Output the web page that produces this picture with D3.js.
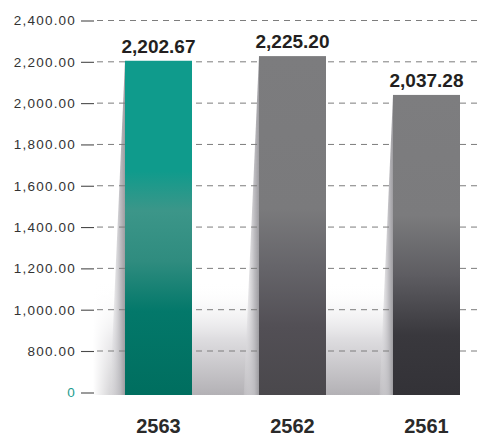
<!DOCTYPE html>
<html>
<head>
<meta charset="utf-8">
<script src="https://cdn.jsdelivr.net/npm/d3@7"></script>
<style>
  body { margin: 0; background: #fff; }
  svg { display: block; font-family: "Liberation Sans", Arial, sans-serif; }
</style>
</head>
<body>
<div id="chart"></div>
<script>
// data
const years = ["2563", "2562", "2561"];
const values = [2202.67, 2225.20, 2037.28];
const tickValues = [0, 800, 1000, 1200, 1400, 1600, 1800, 2000, 2200, 2400];

const width = 479, height = 437;

const svg = d3.select("#chart").append("svg")
    .attr("width", width)
    .attr("height", height);

const defs = svg.append("defs");

// broken axis: 0 sits one step below 800
const y = d3.scaleLinear()
    .domain([0, 800, 2400])
    .range([392, 350.5, 20]);

const x = d3.scaleBand()
    .domain(years)
    .range([91.5, 493.5])
    .paddingInner(0.5)
    .paddingOuter(0.25);

const barBottom = y(0) + 3;

// gradients for bars
const barStops = [
    [[0, "#0f9b8c"], [0.33, "#0f9b8c"], [0.45, "#3c9689"], [0.6, "#2f8c7f"], [0.75, "#03786a"], [1, "#006e5f"]],
    [[0, "#7c7c7e"], [0.45, "#7a7a7c"], [0.62, "#66656a"], [0.8, "#524f55"], [1, "#4a484c"]],
    [[0, "#7d7d7f"], [0.4, "#7b7b7d"], [0.6, "#5e5d62"], [0.8, "#39383d"], [1, "#333237"]]
];
barStops.forEach(function (stops, i) {
    const g = defs.append("linearGradient")
        .attr("id", "bar" + i)
        .attr("x1", 0).attr("y1", 0).attr("x2", 0).attr("y2", 1);
    stops.forEach(function (s) {
        g.append("stop").attr("offset", s[0]).attr("stop-color", s[1]);
    });
});

const floor = defs.append("linearGradient")
    .attr("id", "floor")
    .attr("x1", 0).attr("y1", 0).attr("x2", 0).attr("y2", 1);
floor.append("stop").attr("offset", 0).attr("stop-color", "#fff").attr("stop-opacity", 0);
floor.append("stop").attr("offset", 0.5).attr("stop-color", "#dedde0").attr("stop-opacity", 1);
floor.append("stop").attr("offset", 1).attr("stop-color", "#b3b1b5").attr("stop-opacity", 1);

const wedge = defs.append("linearGradient")
    .attr("id", "wedge")
    .attr("x1", 0).attr("y1", 0).attr("x2", 1).attr("y2", 0);
wedge.append("stop").attr("offset", 0).attr("stop-color", "#e4e3e6").attr("stop-opacity", 0.2);
wedge.append("stop").attr("offset", 0.7).attr("stop-color", "#bdbcc0");
wedge.append("stop").attr("offset", 1).attr("stop-color", "#9e9da1");

const fadeLeft = defs.append("linearGradient")
    .attr("id", "fadeLeft")
    .attr("x1", 0).attr("y1", 0).attr("x2", 1).attr("y2", 0);
fadeLeft.append("stop").attr("offset", 0).attr("stop-color", "#fff").attr("stop-opacity", 1);
fadeLeft.append("stop").attr("offset", 1).attr("stop-color", "#fff").attr("stop-opacity", 0);

// floor shadows in the gaps, left of each bar
const shadows = svg.append("g");
years.forEach(function (yr, i) {
    const x0 = x(yr);
    const left = i === 0 ? x0 - 32 : x(years[i - 1]) + x.bandwidth();
    shadows.append("rect")
        .attr("x", left)
        .attr("y", y(0) - 110)
        .attr("width", x0 - left)
        .attr("height", barBottom - (y(0) - 110))
        .attr("fill", "url(#floor)");
    if (i === 0) {
        shadows.append("rect")
            .attr("x", left)
            .attr("y", y(0) - 110)
            .attr("width", x0 - left)
            .attr("height", barBottom - (y(0) - 110))
            .attr("fill", "url(#fadeLeft)");
    }
    // slanted shadow along the bar's left edge
    const top = y(values[i]);
    const spread = (barBottom - top) * 0.045;
    shadows.append("path")
        .attr("d", "M" + x0 + "," + top +
            "L" + x0 + "," + barBottom +
            "L" + (x0 - spread) + "," + barBottom + "Z")
        .attr("fill", "url(#wedge)");
});

// dashed grid
svg.append("g")
    .selectAll("line")
    .data(tickValues.filter(d => d > 0))
    .join("line")
    .attr("x1", 97)
    .attr("x2", width)
    .attr("y1", d => y(d) + 0.5)
    .attr("y2", d => y(d) + 0.5)
    .attr("stroke", "#7d7d7d")
    .attr("stroke-width", 1)
    .attr("stroke-dasharray", "6,5");

// y axis
const yAxis = d3.axisLeft(y)
    .tickValues(tickValues)
    .tickSize(13)
    .tickPadding(5)
    .tickFormat(d => d === 0 ? "0" : d3.format(",.2f")(d));

const ya = svg.append("g")
    .attr("transform", "translate(94,0.5)")
    .call(yAxis);
ya.select(".domain").remove();
ya.selectAll(".tick line").attr("stroke", "#4a4a4a").attr("stroke-width", 1.1);
ya.selectAll(".tick text")
    .attr("font-size", 13.5)
    .attr("letter-spacing", 1.2)
    .attr("font-family", "Liberation Sans, Arial, sans-serif")
    .attr("fill", d => d === 0 ? "#1c9d8e" : "#333");

// bars
svg.append("g")
    .selectAll("rect")
    .data(values)
    .join("rect")
    .attr("x", (d, i) => x(years[i]))
    .attr("y", d => y(d))
    .attr("width", x.bandwidth())
    .attr("height", d => barBottom - y(d))
    .attr("fill", (d, i) => "url(#bar" + i + ")");

// value labels
svg.append("g")
    .selectAll("text")
    .data(values)
    .join("text")
    .attr("x", (d, i) => x(years[i]) + x.bandwidth() / 2)
    .attr("y", d => y(d) - 8)
    .attr("text-anchor", "middle")
    .attr("font-size", 19)
    .attr("font-weight", "bold")
    .attr("fill", "#231f20")
    .text(d => d3.format(",.2f")(d));

// category labels
svg.append("g")
    .selectAll("text")
    .data(years)
    .join("text")
    .attr("x", d => x(d) + x.bandwidth() / 2)
    .attr("y", 433)
    .attr("text-anchor", "middle")
    .attr("font-size", 20)
    .attr("font-weight", "bold")
    .attr("fill", "#2a2a2a")
    .text(d => d);
</script>
</body>
</html>
